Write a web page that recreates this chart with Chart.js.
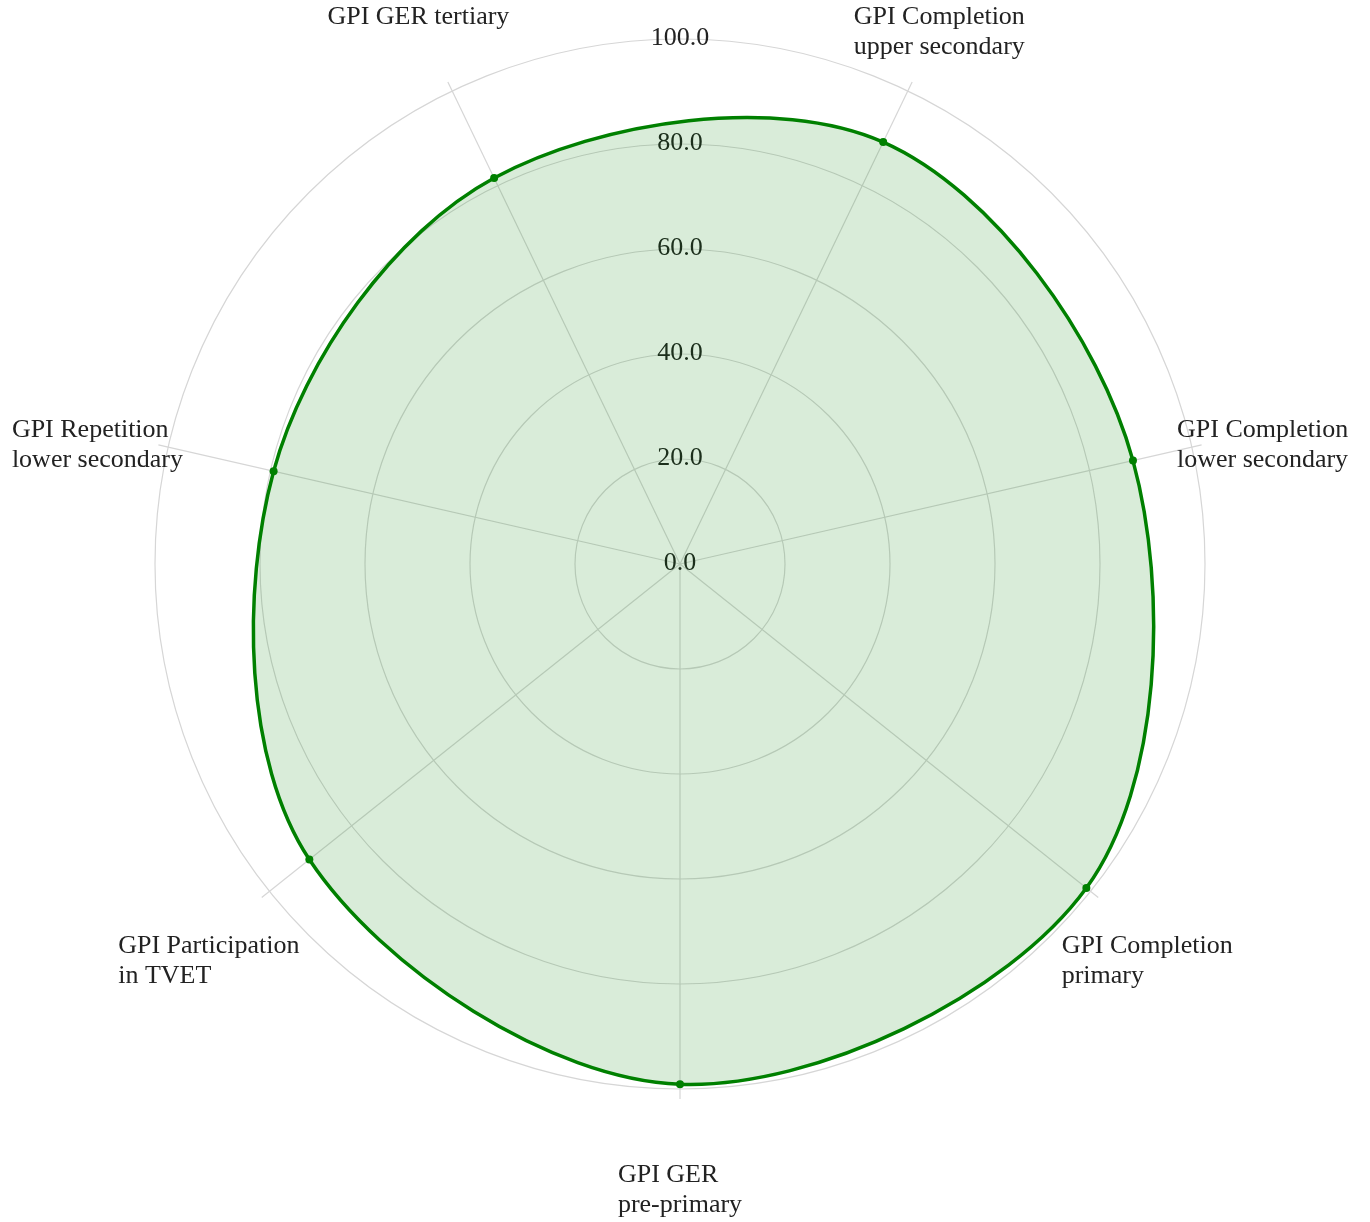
<!DOCTYPE html>
<html>
<head>
<meta charset="utf-8">
<title>GPI radar</title>
<script src="https://cdn.jsdelivr.net/npm/chart.js@4.4.1/dist/chart.umd.min.js"></script>
<style>
  html, body { margin: 0; padding: 0; background: #fff; }
  #wrap { width: 1370px; height: 1222px; }
</style>
</head>
<body>
<div id="wrap"><canvas id="radar"></canvas></div>
<script>
// ==========================================
// DATOS
// ==========================================
var ejes = [
  ["GPI Completion", "upper secondary"],
  ["GPI Completion", "lower secondary"],
  ["GPI Completion", "primary"],
  ["GPI GER", "pre-primary"],
  ["GPI Participation", "in TVET"],
  ["GPI Repetition", "lower secondary"],
  ["GPI GER tertiary"]
];
var valores = [89.2, 88.5, 99.0, 99.1, 90.3, 79.4, 81.6];
var marcas = [0, 20, 40, 60, 80, 100];

var fuente = "'Liberation Serif', 'Times New Roman', serif";
var colorGrid = "#d6d6d6";

// etiquetas de ejes y de valores dibujadas a mano (sin rotar, alineadas a la izquierda)
var etiquetasPlugin = {
  id: "etiquetasEjes",
  beforeDatasetsDraw: function (chart) {
    var r = chart.scales.r;
    var ctx = chart.ctx;
    ctx.save();
    // las lineas angulares sobresalen un poco del ultimo anillo
    ctx.strokeStyle = colorGrid;
    ctx.lineWidth = 1.2;
    ejes.forEach(function (e, i) {
      var a = r.getPointPosition(i, r.drawingArea);
      var b = r.getPointPosition(i, r.drawingArea + 10);
      ctx.beginPath();
      ctx.moveTo(a.x, a.y);
      ctx.lineTo(b.x, b.y);
      ctx.stroke();
    });
    // valores del eje radial, en vertical sobre el centro
    ctx.font = "26px " + fuente;
    ctx.fillStyle = "#222";
    ctx.textAlign = "center";
    ctx.textBaseline = "middle";
    marcas.forEach(function (v) {
      var d = r.getDistanceFromCenterForValue(v);
      ctx.fillText(v.toFixed(1), r.xCenter, r.yCenter - d - 1);
    });
    ctx.restore();
  },
  afterDraw: function (chart) {
    var r = chart.scales.r;
    var ctx = chart.ctx;
    var rad = r.drawingArea;
    ctx.save();
    ctx.font = "26px " + fuente;
    ctx.fillStyle = "#222";
    ctx.textAlign = "left";
    ctx.textBaseline = "middle";
    ejes.forEach(function (lineas, i) {
      var ang = r.getIndexAngle(i);
      var s = Math.sin(ang), c = Math.cos(ang);
      var w = Math.max.apply(null, lineas.map(function (t) { return ctx.measureText(t).width; }));
      var xMedio = r.xCenter + (rad - 13 + w / 2) * s;
      var y0 = r.yCenter - (rad + 84) * c + 2;
      lineas.forEach(function (t, k) {
        ctx.fillText(t, xMedio - w / 2, y0 + k * 30);
      });
    });
    ctx.restore();
  }
};

var ctxRadar = document.getElementById("radar");
new Chart(ctxRadar, {
  type: "radar",
  data: {
    labels: ejes,
    datasets: [{
      label: "GPI",
      data: valores,
      borderColor: "#008000",
      backgroundColor: "rgba(0, 128, 0, 0.15)",
      borderWidth: 3.5,
      pointRadius: 4,
      pointBackgroundColor: "#008000",
      pointBorderWidth: 0,
      tension: 0.34,
      fill: true
    }]
  },
  options: {
    responsive: true,
    maintainAspectRatio: false,
    animation: false,
    layout: {
      padding: { left: 155, top: 39, right: 165, bottom: 133 }
    },
    plugins: {
      legend: { display: false },
      tooltip: { enabled: false }
    },
    scales: {
      r: {
        min: marcas[0],
        max: marcas[marcas.length - 1],
        startAngle: 180 / ejes.length,
        afterBuildTicks: function (scale) {
          scale.ticks = marcas.map(function (v) { return { value: v }; });
        },
        ticks: { display: false },
        grid: { circular: true, color: colorGrid, lineWidth: 1.2 },
        angleLines: { color: colorGrid, lineWidth: 1.2 },
        pointLabels: { display: false }
      }
    }
  },
  plugins: [etiquetasPlugin]
});
</script>
</body>
</html>
